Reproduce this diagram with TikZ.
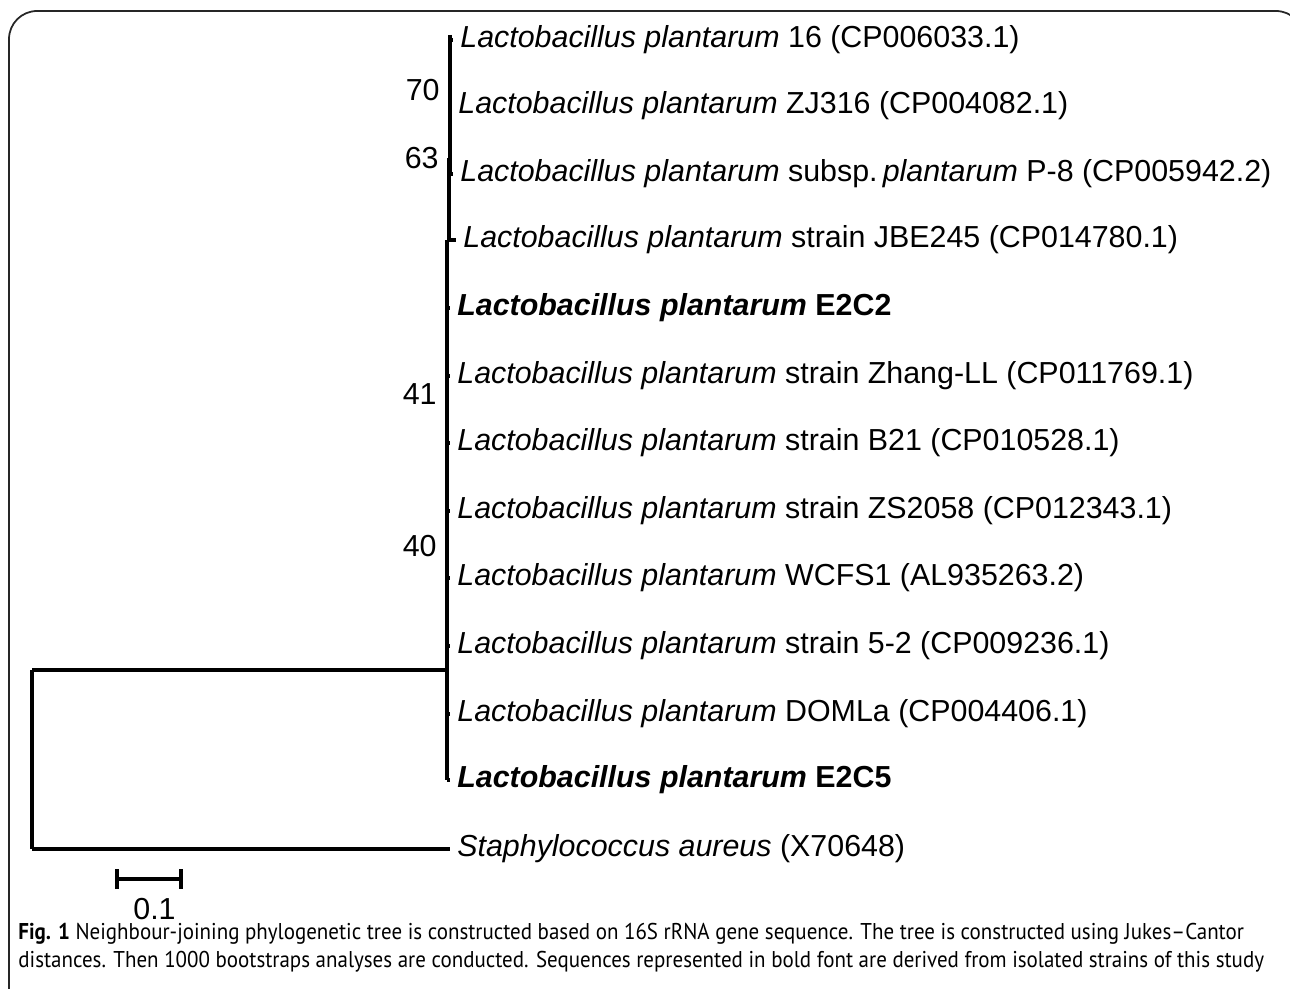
\documentclass[tikz,border=0pt]{standalone}
\usepackage{graphicx}
\usepackage{fontspec}
\setmainfont{Liberation Sans}
\newfontfamily\capfont{PT Sans}
\usetikzlibrary{positioning,arrows.meta,calc}

\begin{document}
\begin{tikzpicture}[x=0.02cm,y=-0.02cm,
  leaf/.style={anchor=west,inner xsep=0.14cm,inner ysep=0pt,font=\fontsize{17.3}{20}\selectfont},
  boot/.style={inner sep=0pt,font=\fontsize{17.3}{20}\selectfont},
  capline/.style={anchor=west,inner sep=0pt,font=\capfont\fontsize{13}{15}\selectfont},
  branch/.style={line width=2.1pt}]
  \useasboundingbox (0,0) rectangle (1290,989);
  \begin{scope}
    \clip (0,0) rectangle (1290,989);
    \draw[line width=1pt,black!85,rounded corners=16] (9,1020) -- (9,11) -- (1304,11) -- (1304,1020);
  \end{scope}
  \foreach \i/\bx/\y/\tx/\t in {
    1/450/40/460/{\textit{Lactobacillus\ plantarum} 16 (CP006033.1)},
    2/450/106/458/{\textit{Lactobacillus\ plantarum}\ ZJ316 (CP004082.1)},
    3/450/174/460/{\textit{Lactobacillus plantarum} subsp.\,\textit{plantarum} P-8 (CP005942.2)},
    4/449/240/463/{\textit{Lactobacillus\ plantarum} strain JBE245 (CP014780.1)},
    5/447/308/457/{\textbf{\textit{Lactobacillus plantarum} E2C2}},
    6/447/376/457/{\textit{Lactobacillus plantarum} strain Zhang-LL (CP011769.1)},
    7/447/443/457/{\textit{Lactobacillus plantarum} strain B21 (CP010528.1)},
    8/447/511/457/{\textit{Lactobacillus plantarum} strain ZS2058 (CP012343.1)},
    9/447/578/457/{\textit{Lactobacillus plantarum} WCFS1 (AL935263.2)},
    10/447/646/457/{\textit{Lactobacillus plantarum} strain 5-2 (CP009236.1)},
    11/447/714/457/{\textit{Lactobacillus plantarum} DOMLa (CP004406.1)},
    12/447/780/457/{\textbf{\textit{Lactobacillus plantarum} E2C5}},
    13/32/849/457/{\textit{Staphylococcus aureus} (X70648)}}{
    \coordinate (s\i) at (\bx,\y);
    \node[leaf] (l\i) at (\tx-7,\y) {\t};
    \draw[branch] (s\i) -- (l\i.west);
  }
  \coordinate (n70) at (450,90);
  \coordinate (n63) at (449,158);
  \coordinate (n41) at (447,394);
  \coordinate (n40) at (447,546);
  \coordinate (nin) at (447,670);
  \coordinate (nroot) at (32,670);
  \draw[branch] (450,35) -- (s3);
  \draw[line width=2.8pt] (n63) -- (s4);
  \draw[branch] (s4 -| nin) -- (s12);
  \draw[branch] (nroot) -- (nin);
  \draw[branch] (nroot) -- (s13);
  \node[boot,left=0.2cm of n70] {70};
  \node[boot,left=0.2cm of n63] {63};
  \node[boot,left=0.2cm of n41] {41};
  \node[boot,left=0.2cm of n40] {40};
  \coordinate (sb1) at (115,879);
  \coordinate (sb2) at (183,879);
  \draw[branch,{Bar[width=0.4cm]}-{Bar[width=0.4cm]}] (sb1) -- (sb2);
  \node[boot,below right=0.38cm and -0.32cm of $(sb1)!0.5!(sb2)$] (sblabel) {0.1};
  \node[capline] (cap1) at (18,934)
    {\scalebox{0.918}[1]{\textbf{Fig. 1} Neighbour-joining phylogenetic tree is constructed based on 16S rRNA gene sequence. The tree is constructed using Jukes–Cantor}};
  \node[capline] (cap2) at (18,962)
    {\scalebox{0.918}[1]{distances. Then 1000 bootstraps analyses are conducted. Sequences represented in bold font are derived from isolated strains of this study}};
\end{tikzpicture}
\end{document}
